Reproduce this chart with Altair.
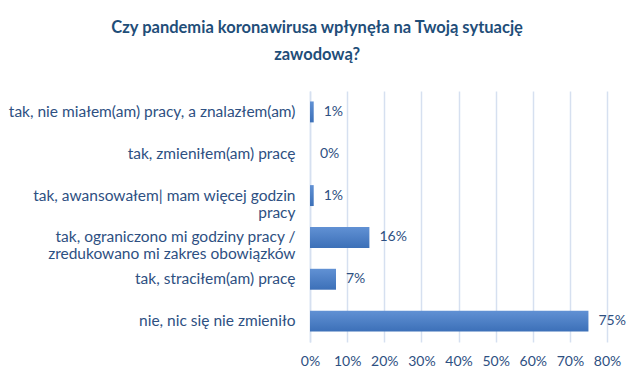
import altair as alt
import pandas as pd

categories = [
    "tak, nie miałem(am) pracy, a znalazłem(am)",
    "tak, zmieniłem(am) pracę",
    "tak, awansowałem| mam więcej godzin\npracy",
    "tak, ograniczono mi godziny pracy /\nzredukowano mi zakres obowiązków",
    "tak, straciłem(am) pracę",
    "nie, nic się nie zmieniło",
]
values = [1, 0, 1, 16, 7, 75]
x_ticks = [0, 10, 20, 30, 40, 50, 60, 70, 80]

df = pd.DataFrame({"cat": categories, "val": values})
df["lbl"] = df["val"].astype(str) + "%"

FONT = "Lato"
TXT = "#2E5082"

y_enc = alt.Y(
    "cat:N",
    sort=categories,
    title=None,
    scale=alt.Scale(paddingInner=0.5, paddingOuter=0.25),
    axis=alt.Axis(
        labelExpr="split(datum.label, '\\n')",
        labelLineHeight=17,
        labelFontSize=15.5,
        labelFont=FONT,
        labelColor=TXT,
        labelPadding=15,
        labelLimit=400,
        ticks=False,
        domain=True,
        domainColor="#D6E0F0",
        domainWidth=1.5,
        grid=False,
    ),
)

x_enc = alt.X(
    "val:Q",
    title=None,
    scale=alt.Scale(domain=[0, 80], nice=False),
    axis=alt.Axis(
        values=x_ticks,
        labelExpr="datum.value + '%'",
        labelFontSize=14,
        labelFont=FONT,
        labelColor=TXT,
        labelPadding=12,
        labelOverlap=False,
        labelFlush=False,
        ticks=False,
        domain=False,
        grid=True,
        gridColor="#D6E0F0",
        gridWidth=1.5,
    ),
)

bars = alt.Chart(df).mark_bar(
    color=alt.Gradient(
        gradient="linear",
        stops=[
            alt.GradientStop(color="#6191D4", offset=0),
            alt.GradientStop(color="#3C70B8", offset=1),
        ],
        x1=0, x2=0, y1=0, y2=1,
    ),
).encode(x=x_enc, y=y_enc)

labels = alt.Chart(df).mark_text(
    align="left", baseline="middle", dx=10, fontSize=14, font=FONT, color=TXT
).encode(x=x_enc, y=y_enc, text="lbl:N")

chart = (
    (bars + labels)
    .properties(
        width=297,
        height=251,
        padding={"left": 0, "top": 11, "right": 5, "bottom": 5},
        title=alt.TitleParams(
            text=["Czy pandemia koronawirusa wpłynęła na Twoją sytuację", "zawodową?"],
            fontSize=16.5,
            font=FONT,
            fontWeight="bold",
            color="#1F4E79",
            anchor="middle",
            frame="bounds",
            lineHeight=27,
            offset=28,
        ),
        background="white",
    )
    .configure_view(stroke=None)
)

chart.save("out.html", embed_options={"renderer": "svg", "actions": False})
